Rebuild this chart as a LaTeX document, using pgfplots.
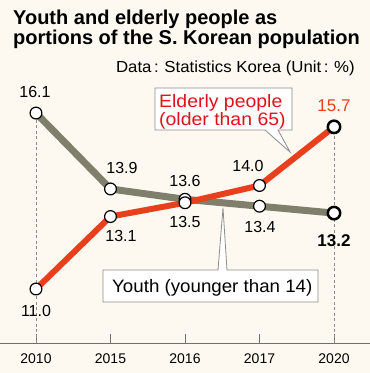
\documentclass[border=0pt]{standalone}
\usepackage{pgfplots}
\pgfplotsset{compat=1.18}
\usepackage{fontspec}
\setmainfont{Liberation Sans}
\newfontfamily\wideA{Liberation Sans}[FakeStretch=1.08]
\newfontfamily\wideB{Liberation Sans}[FakeStretch=1.04]
\newfontfamily\wideC{Liberation Sans}[FakeStretch=1.05]
\definecolor{bg}{HTML}{FDF9F0}
\definecolor{youthc}{HTML}{807F6C}
\definecolor{oldc}{HTML}{E8401C}
\definecolor{labred}{HTML}{E2101A}
\definecolor{axisgray}{HTML}{707070}
\definecolor{dashgray}{HTML}{8A8A8A}
\definecolor{boxgray}{HTML}{8C8C8C}
\begin{document}
\begin{tikzpicture}
\fill[bg] (0,0) rectangle (370pt,373pt);
\begin{axis}[at={(0pt,30pt)}, anchor=south west, scale only axis,
  width=370pt, height=263pt,
  xmin=-0.483, xmax=4.483, ymin=9.435, ymax=17.058,
  axis y line=none, axis x line*=bottom,
  axis line style={draw=axisgray, line width=0.8pt},
  xtick={0,1,2,3,4}, xticklabels={2010,2015,2016,2017,2020},
  tick align=inside, major tick length=9pt,
  xtick style={draw=axisgray, line width=0.8pt},
  xticklabel style={font=\fontsize{14}{14}\selectfont, anchor=north, inner sep=0pt, yshift=-11pt},
  ytick=\empty, clip=false]
\addplot[dashgray, line width=0.8pt, dash pattern=on 3pt off 2.5pt] coordinates {(0,9.435)(0,16.1)};
\addplot[dashgray, line width=0.8pt, dash pattern=on 3pt off 2.5pt] coordinates {(4,9.435)(4,15.7)};
\addplot[youthc, line width=7pt, line join=round, mark=*, mark size=5.9pt,
  mark options={fill=white, draw=black, line width=1.2pt}]
  coordinates {(0,16.1)(1,13.9)(2,13.6)(3,13.4)(4,13.2)};
\addplot[only marks, mark=*, mark size=6.2pt, mark options={fill=white, draw=black, line width=2.5pt}]
  coordinates {(4,13.2)};
\addplot[oldc, line width=6pt, line join=round, mark=*, mark size=5.9pt,
  mark options={fill=white, draw=black, line width=1.2pt}]
  coordinates {(0,11.0)(1,13.1)(2,13.5)(3,14.0)(4,15.7)};
\addplot[only marks, mark=*, mark size=6.2pt, mark options={fill=white, draw=black, line width=2.5pt}]
  coordinates {(4,15.7)};
\end{axis}
\begin{scope}[x=1pt, y=-1pt, shift={(0pt,373pt)}]
% title
\node[anchor=base west, inner sep=0pt, font=\fontsize{20}{21}\selectfont\bfseries] at (13,25) {Youth and elderly people as};
\node[anchor=base west, inner sep=0pt, font=\fontsize{20}{21}\selectfont\bfseries] at (13,45) {portions of the S. Korean population};
\node[anchor=base east, inner sep=0pt, font=\fontsize{16}{16}\wideC] at (355,73) {Data\,:\hspace{0.35em}Statistics Korea (Unit\,:\hspace{0.35em}\%)};
% callouts
\draw[boxgray, fill=white, line width=0.8pt] (155,88) -- (292,88) -- (292,130) -- (278,130) -- (290,152) -- (265,130) -- (155,130) -- cycle;
\node[anchor=north west, inner sep=0pt, align=left, text=labred, font=\fontsize{18}{16}\wideA] at (159,94) {Elderly people\\(older than 65)};
\draw[boxgray, fill=white, line width=0.8pt] (103,270) -- (218,270) -- (223,208) -- (227,270) -- (318,270) -- (318,302) -- (103,302) -- cycle;
\node[anchor=base west, inner sep=0pt, font=\fontsize{18}{18}\wideB] at (112,292) {Youth (younger than 14)};
% data labels
\tikzset{dl/.style={inner sep=0pt, anchor=center, font=\fontsize{16}{16}\selectfont}}
\node[dl] at (35,92) {16.1};
\node[dl] at (122,168) {13.9};
\node[dl] at (185,181) {13.6};
\node[dl] at (185,222) {13.5};
\node[dl] at (121,236) {13.1};
\node[dl] at (36,311) {11.0};
\node[dl] at (248,166) {14.0};
\node[dl] at (260,227) {13.4};
\node[dl, text=oldc, font=\fontsize{17}{17}\selectfont] at (334,106) {15.7};
\node[dl, font=\fontsize{17}{17}\selectfont\bfseries] at (334,241) {13.2};
\end{scope}
\pgfresetboundingbox
\path (0,0) rectangle (370pt,373pt);
\end{tikzpicture}
\end{document}
